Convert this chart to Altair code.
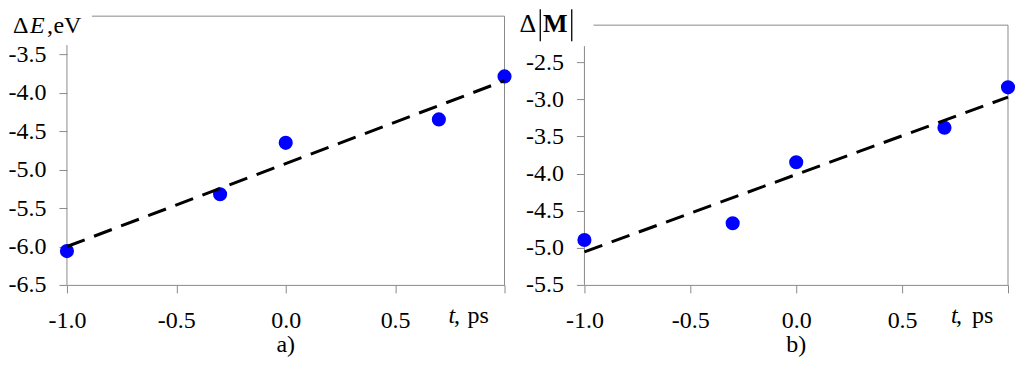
import altair as alt
import pandas as pd

# ---- data ----
t_vals = [-1.0, -0.3, 0.0, 0.7, 1.0]
dE_vals = [-6.06, -5.32, -4.65, -4.345, -3.785]
dM_vals = [-4.895, -4.669, -3.847, -3.383, -2.838]
trend_t = [-1.0, 1.0]
trend_dE = [-6.00, -3.84]
trend_dM = [-5.055, -2.97]
x_ticks = [-1.0, -0.5, 0.0, 0.5, 1.0]
y_ticks_a = [-6.5, -6.0, -5.5, -5.0, -4.5, -4.0, -3.5]
y_ticks_b = [-5.5, -5.0, -4.5, -4.0, -3.5, -3.0, -2.5]

FONT = "Liberation Serif"
GRAY = "#8a8a8a"
W1, W2, H = 438, 424, 269
ONE = alt.Data(values=[{}])

XLBL = "datum.value == 1 ? '' : replace(format(datum.value, '.1f'), '\u2212', '-')"
YLBL = "replace(format(datum.value, '.1f'), '\u2212', '-')"


def txt(s, x, y, size=24, style="normal", weight="normal", align="left"):
    return alt.Chart(ONE).mark_text(
        text=s, font=FONT, fontSize=size, fontStyle=style, fontWeight=weight,
        align=align, baseline="alphabetic", color="black"
    ).encode(x=alt.value(x), y=alt.value(y))


def rule(x, x2, y, y2, color=GRAY, width=1):
    return alt.Chart(ONE).mark_rule(color=color, strokeWidth=width).encode(
        x=alt.value(x), x2=alt.value(x2), y=alt.value(y), y2=alt.value(y2))


def panel(values, trend_vals, y_dom, y_ticks, width, top_px, axis_top_px, border_x_px, extras, t_pos, label):
    xs = alt.Scale(domain=[-1, 1], nice=False, zero=False)
    ys = alt.Scale(domain=y_dom, nice=False, zero=False)
    x_axis = alt.Axis(values=x_ticks, labelExpr=XLBL, title=None, grid=False,
                      domain=True, domainColor=GRAY, tickColor=GRAY, tickSize=8,
                      labelPadding=16, labelFont=FONT, labelFontSize=24,
                      labelColor="black", labelFlush=False, labelOverlap=False)
    y_axis = alt.Axis(values=y_ticks, labelExpr=YLBL, title=None, grid=False,
                      domain=False, tickColor=GRAY, tickSize=8, labelPadding=13,
                      labelFont=FONT, labelFontSize=24, labelColor="black",
                      labelFlush=False, labelOverlap=False)
    pts = pd.DataFrame({"t": t_vals, "v": values})
    tr = pd.DataFrame({"t": trend_t, "v": trend_vals})
    points = alt.Chart(pts).mark_circle(size=200, color="#0000ff", opacity=1).encode(
        x=alt.X("t:Q", scale=xs, axis=x_axis),
        y=alt.Y("v:Q", scale=ys, axis=y_axis))
    line = alt.Chart(tr).mark_line(color="black", strokeWidth=3, strokeDash=[19, 10]).encode(
        x=alt.X("t:Q", scale=xs, axis=x_axis),
        y=alt.Y("v:Q", scale=ys, axis=y_axis))
    frame = [
        rule(0, 0, axis_top_px, H),                 # left axis line
        rule(border_x_px, width, top_px, top_px),   # top border
        rule(width, width, top_px, H),              # right border
    ]
    tx, cx, px, ty = t_pos
    labels = [
        txt("t", tx, ty, style="italic"),
        txt(",", cx, ty),
        txt("ps", px, ty),
        txt(label, width / 2, 336, align="center"),
    ]
    return alt.layer(*frame, points, line, *extras, *labels).properties(width=width, height=H)


left_extras = [
    txt("\u0394", -54, 17),
    txt("E", -37, 17, style="italic"),
    txt(",", -20, 17),
    txt("eV", -13.5, 17),
]
right_extras = [
    txt("\u0394", -65, 16, size=26),
    rule(-44.2, -44.2, -7, 25, color="black", width=1.3),
    txt("M", -29.3, 16, size=26, weight="bold", align="center"),
    rule(-12.7, -12.7, -7, 25, color="black", width=1.3),
]

left = panel(dE_vals, trend_dE, [-6.5, -3.0], y_ticks_a, W1, 0, 29, 25,
             left_extras, (382, 387.5, 401, 307.4), "a)")
right = panel(dM_vals, trend_dM, [-5.5, -1.879], y_ticks_b, W2, 9, 30, 9,
              right_extras, (367, 372, 388, 307.4), "b)")

chart = alt.hconcat(left, right, spacing=80, bounds="flush").properties(
    padding=0, background="white"
).configure_view(stroke=None)

chart.save("out.html", embed_options={"renderer": "svg", "actions": False})
